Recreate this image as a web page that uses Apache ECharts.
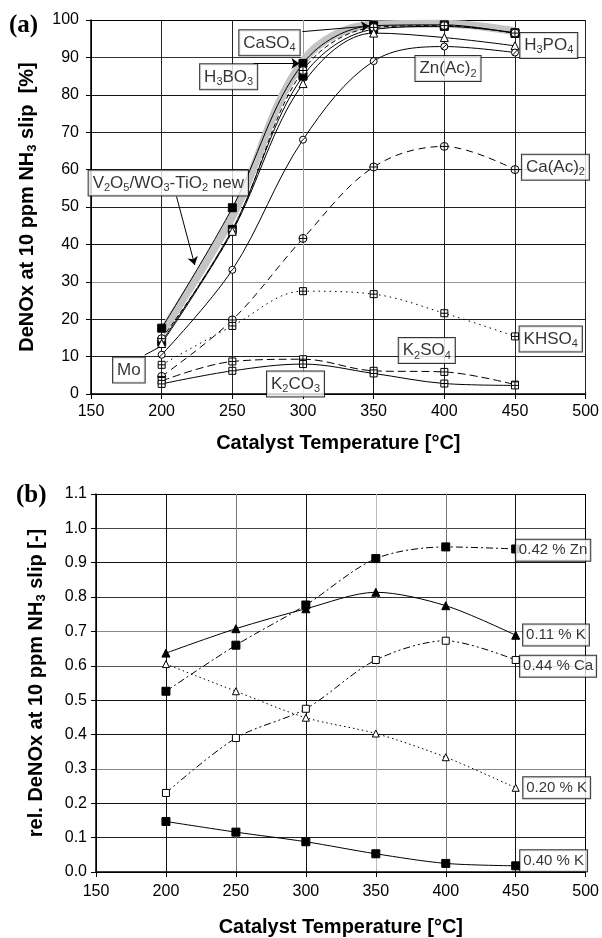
<!DOCTYPE html>
<html>
<head>
<meta charset="UTF-8">
<title>DeNOx vs catalyst temperature</title>
<script src="https://cdn.jsdelivr.net/npm/echarts@6/dist/echarts.min.js"></script>
<style>
  html,body{margin:0;padding:0;background:#fff;}
  #main{width:602px;height:938px;}
</style>
</head>
<body>
<div id="main"></div>
<script>
var temps = [200, 250, 300, 350, 400, 450];
var xTicks = [150, 200, 250, 300, 350, 400, 450, 500];

// (a) DeNOx at 10 ppm NH3 slip [%]
var newCat = [16.5, 47.5, 89.0, 98.8, 99.0, 97.0];
var caso4  = [17.6, 49.8, 88.4, 98.5, 98.7, 96.4];
var h3bo3  = [14.0, 44.0, 85.0, 97.5, 98.3, 96.6];
var mo     = [14.8, 43.5, 86.5, 98.0, 98.5, 96.5];
var h3po4  = [13.5, 43.5, 83.0, 96.5, 95.3, 93.1];
var znAc   = [10.5, 33.2, 68.0, 89.0, 92.9, 91.3];
var caAc   = [4.7, 19.8, 41.6, 60.7, 66.2, 60.0];
var khso4  = [7.8, 18.2, 27.5, 26.7, 21.6, 15.4];
var k2so4  = [3.5, 8.7, 9.3, 6.2, 5.9, 2.5];
var k2co3  = [2.7, 6.2, 8.0, 5.5, 2.8, 2.3];

// (b) rel. DeNOx at 10 ppm NH3 slip [-]
var zn042 = [0.526, 0.660, 0.777, 0.912, 0.946, 0.940];
var k011  = [0.637, 0.708, 0.766, 0.814, 0.775, 0.689];
var ca044 = [0.230, 0.390, 0.475, 0.617, 0.673, 0.617];
var k020  = [0.605, 0.526, 0.449, 0.403, 0.334, 0.245];
var k040  = [0.147, 0.116, 0.088, 0.053, 0.025, 0.018];

// annotation boxes: [text, x, y]
var notesA = [
  ['CaSO{s|4}', 276.3, 93.9],
  ['H{s|3}BO{s|3}', 247.4, 84.8],
  ['H{s|3}PO{s|4}', 473.9, 93.2],
  ['Zn(Ac){s|2}', 402.6, 87.0],
  ['Ca(Ac){s|2}', 478.6, 60.6],
  ['V{s|2}O{s|5}/WO{s|3}-TiO{s|2} new', 204.7, 56.4],
  ['Mo', 176.8, 6.4],
  ['K{s|2}CO{s|3}', 294.7, 2.7],
  ['K{s|2}SO{s|4}', 387.6, 11.6],
  ['KHSO{s|4}', 475.3, 14.7]
];
var arrowsA = [
  [[299.6, 96.9], [346.9, 98.4]],
  [[265.0, 88.4], [297.5, 88.4]],
  [[210.5, 52.8], [223.4, 34.5]]
];
var linksA = [
  [[188.0, 10.4], [198.7, 12.6]]
];
var notesB = [
  ['0.42 % Zn', 476.7, 0.936],
  ['0.11 % K', 478.8, 0.690],
  ['0.44 % Ca', 480.3, 0.599],
  ['0.20 % K', 479.3, 0.245],
  ['0.40 % K', 477.1, 0.033]
];

var SQ_PLUS = 'path://M0,0L10,0L10,10L0,10Z M5,0L5,10 M0,5L10,5';
var CIRC_SLASH = 'path://M10,5A5,5,0,1,1,0,5A5,5,0,1,1,10,5Z M1.6,8.4L8.4,1.6';
var CIRC_PLUS = 'path://M10,5A5,5,0,1,1,0,5A5,5,0,1,1,10,5Z M5,0L5,10 M0,5L10,5';
var FONT = 'Liberation Sans';

function pts(vals) {
  return vals.map(function (v, i) { return [temps[i], v]; });
}

function line(name, vals, gi, sym, size, filled, dash, smooth) {
  return {
    name: name, type: 'line', xAxisIndex: gi, yAxisIndex: gi,
    data: pts(vals), smooth: smooth, symbol: sym, symbolSize: size,
    showAllSymbol: true, z: 3,
    lineStyle: { color: '#000', width: 1, type: dash },
    itemStyle: { color: filled ? '#000' : '#fff', borderColor: '#000', borderWidth: 1 }
  };
}

function notes(list, gi, fs, pad, arrows, links) {
  var s = {
    type: 'scatter', xAxisIndex: gi, yAxisIndex: gi, symbolSize: 0, z: 10,
    data: list.map(function (n) { return { value: [n[1], n[2]], t: n[0] }; }),
    label: {
      show: true, position: 'inside', color: '#000', fontFamily: FONT, fontSize: fs,
      lineHeight: fs + 4, backgroundColor: '#fff', borderColor: '#000', borderWidth: 1,
      padding: pad,
      formatter: function (p) { return p.data.t; },
      rich: { s: { fontSize: Math.round(fs * 0.65), lineHeight: Math.round(fs * 0.65), verticalAlign: 'bottom', fontFamily: FONT } }
    }
  };
  var ml = [];
  (arrows || []).forEach(function (a) {
    ml.push([{ coord: a[0], symbol: 'none' }, { coord: a[1], symbol: 'arrow', symbolSize: 8 }]);
  });
  (links || []).forEach(function (a) {
    ml.push([{ coord: a[0], symbol: 'none' }, { coord: a[1], symbol: 'none' }]);
  });
  if (ml.length) {
    s.markLine = {
      silent: true, animation: false, label: { show: false },
      lineStyle: { color: '#000', width: 1, type: 'solid' },
      data: ml
    };
  }
  return s;
}

var gridColA = ['#000', '#222', '#222', '#999', '#111', '#222', '#222', '#222', '#111', '#333', '#000'];
var gridColBx = ['#000', '#111', '#777', '#111', '#bbb', '#777', '#111', '#000'];
var gridColBy = ['#000', '#222', '#111', '#888', '#111', '#111', '#555', '#888', '#333', '#111', '#444', '#000'];

function xAxis(gi, gap, margin, cols) {
  return {
    type: 'value', gridIndex: gi, min: 150, max: 500, interval: 50,
    name: 'Catalyst Temperature [°C]', nameLocation: 'middle', nameGap: gap,
    nameTextStyle: { fontFamily: FONT, fontSize: 20, fontWeight: 'bold', color: '#000' },
    axisLine: { show: true, onZero: false, lineStyle: { color: '#000', width: 1.5 } },
    axisTick: { show: true, length: 5, lineStyle: { color: '#000' } },
    axisLabel: { fontFamily: FONT, fontSize: 16, color: '#000', margin: margin },
    splitLine: { show: true, lineStyle: { color: cols, width: 1 } }
  };
}

var option = {
  backgroundColor: '#fff',
  animation: false,
  title: [
    { text: '(a)', left: 9, top: 13, padding: 0, textStyle: { fontFamily: 'Liberation Serif', fontWeight: 'bold', fontSize: 25, color: '#000' } },
    { text: '(b)', left: 16, top: 483, padding: 0, textStyle: { fontFamily: 'Liberation Serif', fontWeight: 'bold', fontSize: 25, color: '#000' } }
  ],
  grid: [
    { left: 91, top: 20, width: 496, height: 374 },
    { left: 96, top: 494, width: 493, height: 382 }
  ],
  xAxis: [xAxis(0, 39, 10, gridColA.slice(0, 8)), xAxis(1, 45, 12, gridColBx)],
  yAxis: [
    {
      type: 'value', gridIndex: 0, min: 0, max: 100, interval: 10,
      name: 'DeNOx at 10 ppm NH{s|3} slip  [%]', nameLocation: 'middle', nameGap: 52,
      nameTextStyle: { fontFamily: FONT, fontSize: 20, fontWeight: 'bold', color: '#000', lineHeight: 24,
        rich: { s: { fontFamily: FONT, fontSize: 13, fontWeight: 'bold', lineHeight: 13, verticalAlign: 'bottom' } } },
      axisLine: { show: true, lineStyle: { color: '#000', width: 1.5 } },
      axisTick: { show: true, length: 5, lineStyle: { color: '#000' } },
      axisLabel: { fontFamily: FONT, fontSize: 16, color: '#000', margin: 12 },
      splitLine: { show: true, lineStyle: { color: gridColA, width: 1 } }
    },
    {
      type: 'value', gridIndex: 1, min: 0, max: 1.1, interval: 0.1,
      name: 'rel. DeNOx at 10 ppm NH{s|3} slip [-]', nameLocation: 'middle', nameGap: 48,
      nameTextStyle: { fontFamily: FONT, fontSize: 20, fontWeight: 'bold', color: '#000', lineHeight: 24,
        rich: { s: { fontFamily: FONT, fontSize: 13, fontWeight: 'bold', lineHeight: 13, verticalAlign: 'bottom' } } },
      axisLine: { show: true, lineStyle: { color: '#000', width: 1.5 } },
      axisTick: { show: true, length: 5, lineStyle: { color: '#000' } },
      axisLabel: { fontFamily: FONT, fontSize: 16, color: '#000', margin: 9,
        formatter: function (v) { return v.toFixed(1); } },
      splitLine: { show: true, lineStyle: { color: gridColBy, width: 1 } }
    }
  ],
  series: [
    {
      name: 'V2O5/WO3-TiO2 new', type: 'line', xAxisIndex: 0, yAxisIndex: 0,
      data: pts(newCat), smooth: 0.35, symbol: 'none', z: 2,
      lineStyle: { color: '#c4c4c4', width: 8 }
    },
    line('CaSO4', caso4, 0, 'rect', 8, true, 'solid', 0.35),
    line('H3BO3', h3bo3, 0, 'rect', 8, true, 'solid', 0.35),
    line('Mo', mo, 0, CIRC_PLUS, 8, false, [5, 3], 0.35),
    line('H3PO4', h3po4, 0, 'triangle', 8, false, 'solid', 0.35),
    line('Zn(Ac)2', znAc, 0, CIRC_SLASH, 7, false, 'solid', 0.35),
    line('Ca(Ac)2', caAc, 0, CIRC_PLUS, 8, false, [7, 5], 0.35),
    line('KHSO4', khso4, 0, SQ_PLUS, 7, false, [1.5, 4], 0.35),
    line('K2SO4', k2so4, 0, SQ_PLUS, 7, false, [8, 4], 0.35),
    line('K2CO3', k2co3, 0, SQ_PLUS, 7, false, 'solid', 0.35),
    notes(notesA, 0, 17, [2, 4, 2, 4], arrowsA, linksA),

    line('0.42 % Zn', zn042, 1, 'rect', 8, true, [7, 3, 2, 3], 0.3),
    line('0.11 % K', k011, 1, 'triangle', 8, true, 'solid', 0.3),
    line('0.44 % Ca', ca044, 1, 'rect', 7, false, [7, 3, 2, 3, 2, 3], 0.3),
    line('0.20 % K', k020, 1, 'triangle', 7, false, [1.5, 3], 0.3),
    line('0.40 % K', k040, 1, 'rect', 8, true, 'solid', 0.3),
    notes(notesB, 1, 15, [1, 3, 1, 3])
  ]
};

var chart = echarts.init(document.getElementById('main'), null, { renderer: 'canvas' });
chart.setOption(option);
</script>
</body>
</html>
